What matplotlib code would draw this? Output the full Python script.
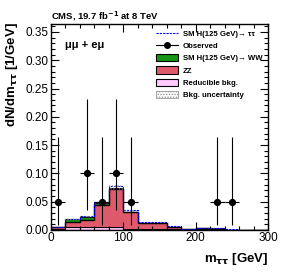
import numpy as np
import matplotlib
matplotlib.use("Agg")
import matplotlib.pyplot as plt
from matplotlib.patches import Patch
from matplotlib.lines import Line2D

plt.rcParams['font.family'] = ['Liberation Sans', 'DejaVu Sans']
plt.rcParams['hatch.color'] = '#777777'
plt.rcParams['hatch.linewidth'] = 0.6

# bin edges (GeV)
edges = [0, 20, 40, 60, 80, 100, 120, 140, 160, 180, 200, 220, 240, 260, 280, 300]
# background / signal densities (1/GeV) per bin
reducible = [0.002, 0.006, 0.006, 0.006, 0.006, 0.0025, 0.0025, 0.0025, 0.0025, 0.0008, 0.0012, 0.0008, 0.0003, 0.0001, 0.0]
zz = [0.0035, 0.008, 0.012, 0.039, 0.067, 0.029, 0.009, 0.009, 0.003, 0.001, 0.0022, 0.0018, 0.0005, 0.0002, 0.0001]
hww = [0.0005, 0.005, 0.005, 0.003, 0.002, 0.0005, 0.0005, 0.0005, 0.0003, 0.0002, 0.0002, 0.0001, 0.0, 0.0, 0.0]
htt = [0.0, 0.0005, 0.001, 0.001, 0.002, 0.003, 0.003, 0.003, 0.0005, 0.0003, 0.0003, 0.0002, 0.0001, 0.0, 0.0]
unc_frac = 0.08

# observed data
obs_x = [10, 50, 70, 90, 110, 230, 250]
obs_y = [0.05, 0.10, 0.05, 0.10, 0.05, 0.05, 0.05]
obs_lo = [0.041, 0.0645, 0.041, 0.0645, 0.041, 0.041, 0.041]
obs_hi = [0.115, 0.132, 0.115, 0.132, 0.115, 0.115, 0.115]
obs_xerr = 10

edges = np.array(edges, float)
left = edges[:-1]
w = np.diff(edges)
red = np.array(reducible)
zzv = np.array(zz)
ww = np.array(hww)
tt = np.array(htt)

fig = plt.figure(figsize=(2.83, 2.74), dpi=100)
ax = fig.add_axes([51/283, 1-230/274, 217/283, 206/274])

c_red = '#ffccff'
c_zz = '#de5a6a'
c_ww = '#159415'

ax.bar(left, red, width=w, align='edge', color=c_red, edgecolor='black', linewidth=0.8)
ax.bar(left, zzv, width=w, bottom=red, align='edge', color=c_zz, edgecolor='none', linewidth=0)
ax.bar(left, ww, width=w, bottom=red+zzv, align='edge', color=c_ww, edgecolor='none', linewidth=0)
tot_zz = red + zzv
ax.stairs(tot_zz, edges, color='black', linewidth=1.0)
tot = red + zzv + ww
ax.stairs(tot, edges, color='black', linewidth=0.8)
ax.stairs(tot + tt, edges, color='blue', linestyle=(0, (2, 1)), linewidth=0.8)
# uncertainty band
ax.bar(left, 2*unc_frac*tot, width=w, bottom=tot*(1-unc_frac), align='edge',
       facecolor='none', edgecolor='#888888', hatch='......', linewidth=0)

ax.errorbar(obs_x, obs_y, xerr=obs_xerr, yerr=[obs_lo, obs_hi], fmt='o', color='black',
            markersize=4.2, elinewidth=0.8, capsize=0)

ax.set_xlim(0, 300)
ax.set_ylim(0, 0.364)
ax.set_xticks([0, 100, 200, 300])
ax.set_xticks(np.arange(0, 301, 20), minor=True)
ax.set_yticks(np.arange(0, 0.351, 0.05))
ax.set_yticks(np.arange(0, 0.361, 0.01), minor=True)
ax.yaxis.set_major_formatter(matplotlib.ticker.FormatStrFormatter('%.2f'))
ax.tick_params(which='both', direction='in', top=True, right=True, labelsize=8.5, pad=1.5)
ax.tick_params(which='major', length=6, width=0.8)
ax.tick_params(which='minor', length=3, width=0.8)
for s in ax.spines.values():
    s.set_linewidth(1.0)

fig.text(51/283, 1-19/274, r'CMS, 19.7 fb$^{\mathbf{-1}}$ at 8 TeV', fontsize=6.8, fontweight='bold', va='baseline', ha='left')
ax.text(0.065, 0.90, 'μμ + eμ', transform=ax.transAxes, fontsize=8, fontweight='bold', va='center', ha='left')
fig.text(12/283, 1-22/274, r'dN/dm$_{\mathbf{\tau\tau}}$ [1/GeV]', rotation=90, fontsize=9.5, fontweight='bold', va='top', ha='center')
fig.text(268/283, 1-262/274, r'm$_{\mathbf{\tau\tau}}$ [GeV]', fontsize=9.5, fontweight='bold', va='baseline', ha='right')

handles = [
    Line2D([], [], color='blue', linestyle=(0, (2, 1)), linewidth=0.8),
    Line2D([], [], color='black', marker='o', markersize=4, linewidth=0.8),
    Patch(facecolor=c_ww, edgecolor='black', linewidth=0.8),
    Patch(facecolor=c_zz, edgecolor='black', linewidth=0.8),
    Patch(facecolor=c_red, edgecolor='black', linewidth=0.8),
    Patch(facecolor='white', edgecolor='#888888', hatch='......', linewidth=0.5),
]
labels = ['SM H(125 GeV)→ ττ', 'Observed', 'SM H(125 GeV)→ WW', 'ZZ', 'Reducible bkg.', 'Bkg. uncertainty']
leg = ax.legend(handles, labels, loc='upper left', bbox_to_anchor=(0.46, 1.0), frameon=False,
                fontsize=5.6, handlelength=2.8, handleheight=1.1, labelspacing=0.5,
                handletextpad=0.6, borderaxespad=0.3)
for t in leg.get_texts():
    t.set_fontweight('bold')

fig.savefig('out.png', dpi=100)
